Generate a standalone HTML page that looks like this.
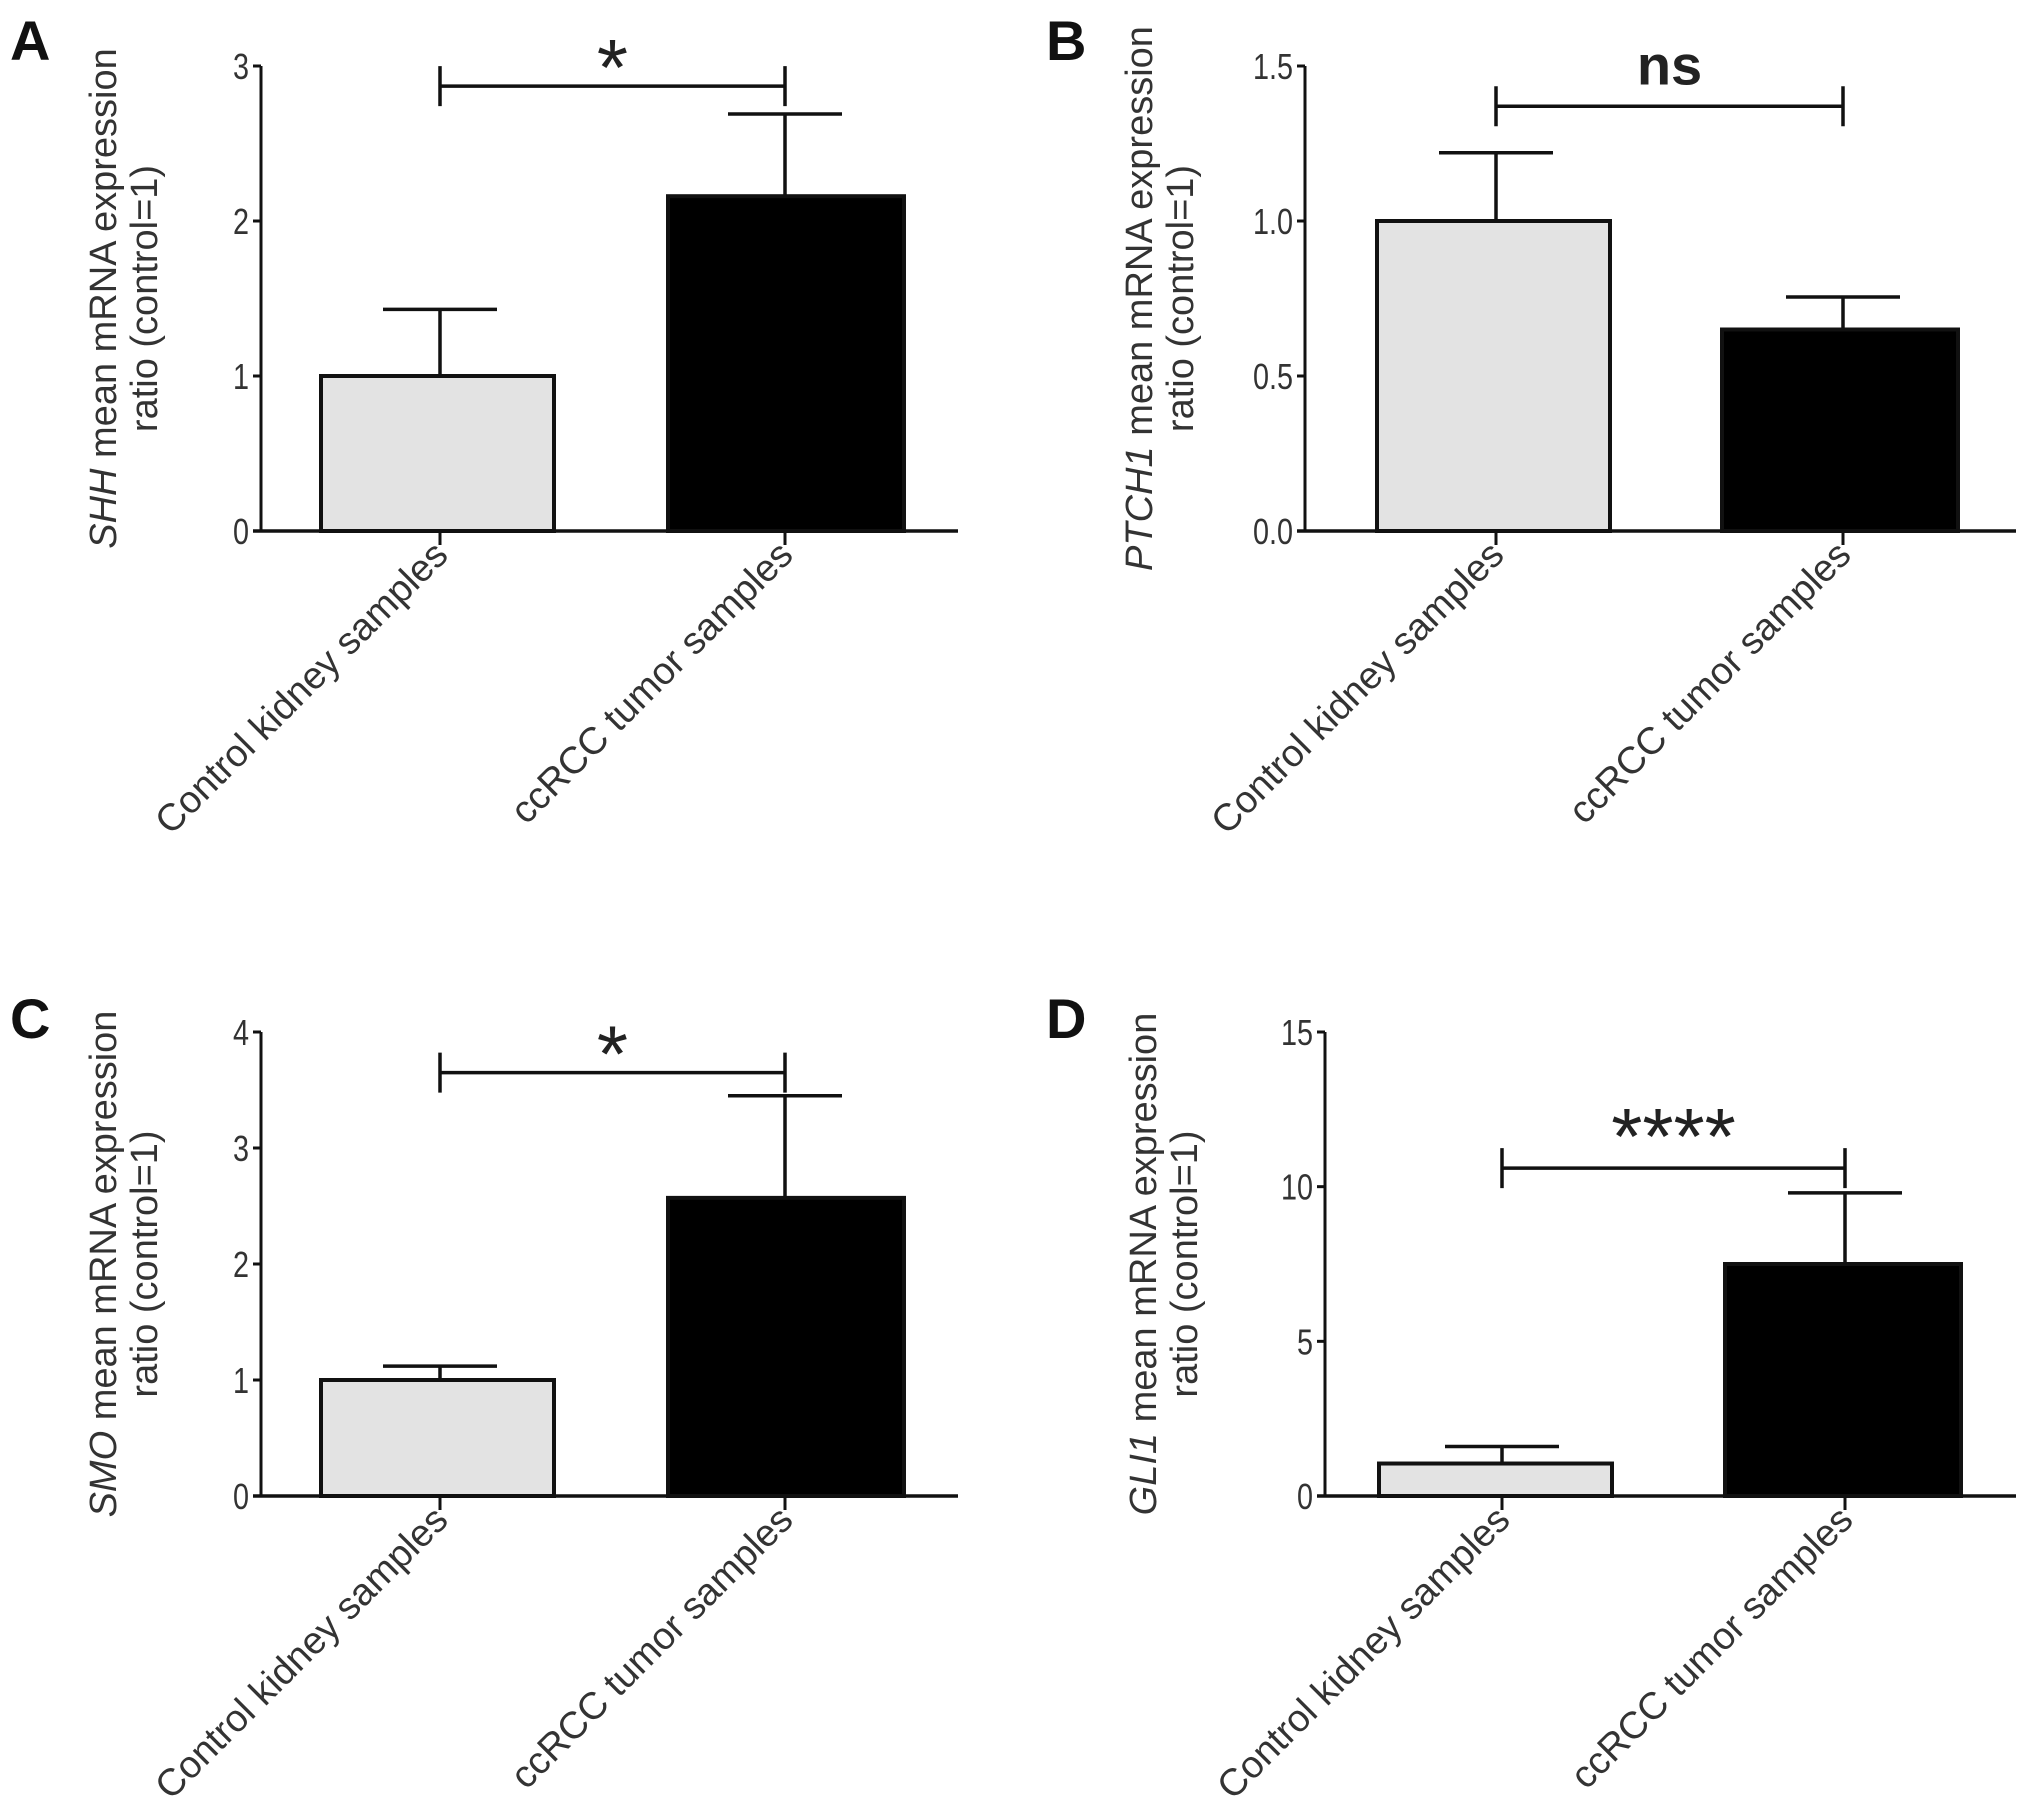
<!DOCTYPE html>
<html><head><meta charset="utf-8">
<style>
html,body{margin:0;padding:0;background:#fff;}
svg{display:block;font-family:"Liberation Sans",Arial,sans-serif;}
</style></head>
<body>
<svg id="fig" width="2031" height="1814" viewBox="0 0 2031 1814" xmlns="http://www.w3.org/2000/svg"></svg>
<script>
const categories = ["Control kidney samples", "ccRCC tumor samples"];
const meansA = [1.0, 2.16];
const errA = [1.43, 2.69];
const meansB = [1.0, 0.65];
const errB = [1.22, 0.755];
const meansC = [1.0, 2.57];
const errC = [1.12, 3.45];
const meansD = [1.05, 7.5];
const errD = [1.6, 9.8];
const ticksA = ["0","1","2","3"];
const ticksB = ["0.0","0.5","1.0","1.5"];
const ticksC = ["0","1","2","3","4"];
const ticksD = ["0","5","10","15"];
const sigLabels = ["*","ns","*","****"];
const sigValues = [2.87, 1.37, 3.65, 10.6];
const genes = ["SHH","PTCH1","SMO","GLI1"];
const letters = ["A","B","C","D"];

const NS="http://www.w3.org/2000/svg";
const svg=document.getElementById('fig');
function mk(tag,attrs,parent){const e=document.createElementNS(NS,tag);for(const k in attrs)e.setAttribute(k,attrs[k]);(parent||svg).appendChild(e);return e;}

const layouts=[
 {ax:261,top:66,bot:531,xend:958,bars:[[321,554],[668,904]],ticks:[440,785],lx:10,ly:60,t1:116,t2:157,max:3,so:9},
 {ax:1305,top:66,bot:531,xend:2016,bars:[[1377,1610],[1722,1958]],ticks:[1496,1843],lx:1046,ly:60,t1:1152,t2:1193,max:1.5,so:-22},
 {ax:261,top:1032,bot:1496,xend:958,bars:[[321,554],[668,904]],ticks:[440,785],lx:10,ly:1038,t1:116,t2:157,max:4,so:9},
 {ax:1325,top:1032,bot:1496,xend:2016,bars:[[1379,1612],[1725,1961]],ticks:[1502,1845],lx:1046,ly:1038,t1:1156,t2:1197,max:15,so:-4}
];
const allMeans=[meansA,meansB,meansC,meansD];
const allErr=[errA,errB,errC,errD];
const allTicks=[ticksA,ticksB,ticksC,ticksD];
const fills=["#e3e3e3","#000"];

layouts.forEach((L,p)=>{
  const g=mk('g',{});
  
  
  const y=v=>L.bot-(v/L.max)*(L.bot-L.top);
  const lt=mk('text',{x:L.lx,y:L.ly,'font-size':56,'font-weight':'bold',fill:'#111'},g);
  lt.textContent=letters[p];
  
  
  allMeans[p].forEach((m,i)=>{
    const b=L.bars[i];
    const cx=L.ticks[i];
    const e=allErr[p][i];
    const ln=mk('line',{x1:cx,x2:cx,y1:y(m),y2:y(e),stroke:'#111','stroke-width':3.5},g);
    
    
    const cap=mk('line',{x1:cx-57,x2:cx+57,y1:y(e),y2:y(e),stroke:'#111','stroke-width':3.5},g);
    
    
    const r=mk('rect',{x:b[0],y:y(m),width:b[1]-b[0],height:L.bot-y(m),fill:fills[i],stroke:'#111','stroke-width':4},g);
    
    
    const tk=mk('line',{x1:cx,x2:cx,y1:L.bot,y2:L.bot+14,stroke:'#111','stroke-width':3},g);
    
    
    const ct=mk('text',{'font-size':38,fill:'#333','text-anchor':'end',transform:`translate(${cx+10},${L.bot+26}) rotate(-45)`},g);
    ct.textContent=categories[i];
    
    
  });
  const ya=mk('line',{x1:L.ax,x2:L.ax,y1:L.top,y2:L.bot,stroke:'#111','stroke-width':3},g);
  
  
  const xa=mk('line',{x1:L.ax-8,x2:L.xend,y1:L.bot,y2:L.bot,stroke:'#111','stroke-width':3.5},g);
  
  
  allTicks[p].forEach(t=>{
    const v=parseFloat(t);
    const tl=mk('line',{x1:L.ax-8,x2:L.ax,y1:y(v),y2:y(v),stroke:'#111','stroke-width':3},g);
    
    
    const tt=mk('text',{'font-size':36,fill:'#333','text-anchor':'end',transform:`translate(${L.ax-12},${y(v)+13}) scale(0.8,1)`},g);
    tt.textContent=t;
    
    
  });
  const mid=(L.top+L.bot)/2;
  const t1=mk('text',{'font-size':38,fill:'#333','text-anchor':'middle',transform:`translate(${L.t1},${mid}) rotate(-90)`},g);
  const it=mk('tspan',{'font-style':'italic'},t1); it.textContent=genes[p];
  const rest=mk('tspan',{},t1); rest.textContent=' mean mRNA expression';
  
  
  const t2=mk('text',{'font-size':38,fill:'#333','text-anchor':'middle',transform:`translate(${L.t2},${mid}) rotate(-90)`},g);
  t2.textContent='ratio (control=1)';
  
  
  const sy=y(sigValues[p]);
  const sg=mk('path',{d:`M${L.ticks[0]},${sy-20}V${sy+20}M${L.ticks[0]},${sy}H${L.ticks[1]}M${L.ticks[1]},${sy-20}V${sy+20}`,stroke:'#111','stroke-width':3.5,fill:'none'},g);
  
  
  const isNs=sigLabels[p]==='ns';
  const st=mk('text',{x:(L.ticks[0]+L.ticks[1])/2,y:sy+L.so,'font-size':isNs?56:80,'font-weight':isNs?'bold':'normal',fill:'#222','text-anchor':'middle'},g);
  st.textContent=sigLabels[p];
  
  
});
</script>
</body></html>
